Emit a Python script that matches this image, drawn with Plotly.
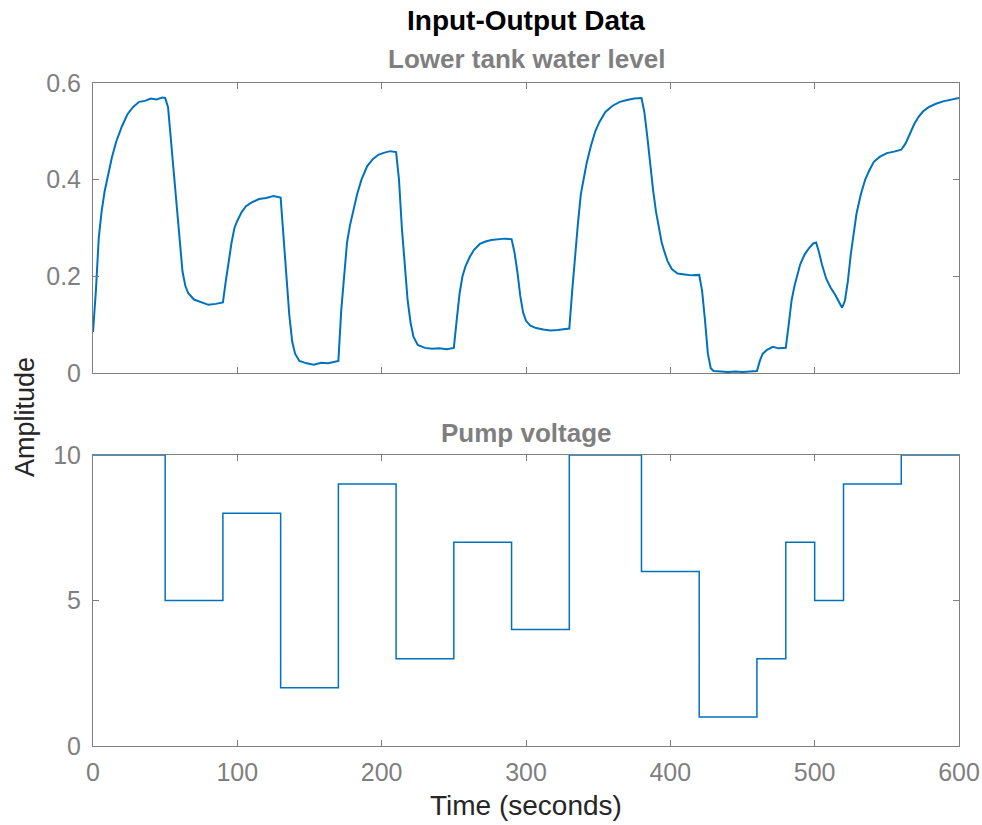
import plotly.graph_objects as go

# ---- data ----
level_time = [0, 2, 4, 6, 8, 10, 13, 16, 20, 24, 28, 32, 36, 40, 44, 48, 50,
              52, 54, 56, 58, 60, 62, 64, 66, 70, 75, 80, 85, 90,
              92, 94, 96, 98, 100, 103, 106, 110, 115, 120, 125, 130,
              132, 134, 136, 138, 140, 143, 148, 153, 158, 163, 168, 170,
              172, 174, 176, 178, 180, 183, 186, 190, 194, 198, 202, 206, 210,
              212, 214, 216, 218, 220, 222, 225, 230, 235, 240, 245, 250,
              252, 254, 256, 258, 261, 264, 268, 272, 276, 280, 285, 290,
              292, 294, 296, 298, 300, 303, 307, 312, 317, 322, 327, 330,
              332, 334, 336, 338, 340, 342, 345, 348, 351, 355, 360, 365, 370, 375, 380,
              382, 384, 386, 388, 390, 392, 394, 396, 398, 401, 405, 410, 415, 420,
              422, 424, 426, 428, 430, 435, 440, 445, 450, 455, 460,
              462, 464, 467, 471, 475, 480,
              482, 484, 486, 488, 490, 493, 496, 499, 501,
              503, 505, 508, 511, 514, 517, 519,
              521, 523, 525, 527, 529, 532, 535, 538, 541, 545, 550, 555, 560,
              563, 566, 569, 572, 575, 579, 584, 589, 594, 600]
level_value = [0.085, 0.17, 0.28, 0.335, 0.375, 0.405, 0.445, 0.478, 0.51, 0.536, 0.551, 0.561, 0.563, 0.568, 0.566, 0.570, 0.569,
               0.55, 0.48, 0.42, 0.34, 0.27, 0.21, 0.18, 0.165, 0.152, 0.146, 0.141, 0.143, 0.146,
               0.19, 0.235, 0.27, 0.30, 0.315, 0.333, 0.345, 0.353, 0.360, 0.362, 0.366, 0.363,
               0.28, 0.19, 0.12, 0.065, 0.04, 0.025, 0.020, 0.017, 0.021, 0.020, 0.023, 0.025,
               0.13, 0.21, 0.27, 0.305, 0.33, 0.37, 0.40, 0.428, 0.443, 0.452, 0.456, 0.459, 0.457,
               0.40, 0.30, 0.22, 0.15, 0.105, 0.075, 0.058, 0.052, 0.050, 0.051, 0.049, 0.052,
               0.11, 0.165, 0.20, 0.22, 0.24, 0.255, 0.267, 0.272, 0.275, 0.276, 0.278, 0.277,
               0.25, 0.21, 0.16, 0.125, 0.108, 0.098, 0.093, 0.090, 0.088, 0.089, 0.090, 0.092,
               0.17, 0.25, 0.31, 0.37, 0.405, 0.434, 0.47, 0.50, 0.52, 0.54, 0.553, 0.561, 0.565, 0.568, 0.569,
               0.54, 0.49, 0.43, 0.38, 0.335, 0.30, 0.27, 0.25, 0.232, 0.215, 0.206, 0.204, 0.202, 0.203,
               0.17, 0.11, 0.04, 0.01, 0.004, 0.003, 0.002, 0.003, 0.002, 0.003, 0.004,
               0.025, 0.040, 0.048, 0.054, 0.051, 0.052,
               0.10, 0.15, 0.18, 0.205, 0.225, 0.245, 0.258, 0.268, 0.270,
               0.25, 0.225, 0.195, 0.177, 0.163, 0.148, 0.135,
               0.15, 0.19, 0.245, 0.29, 0.33, 0.37, 0.40, 0.42, 0.437, 0.447, 0.455, 0.458, 0.462,
               0.475, 0.495, 0.515, 0.53, 0.541, 0.550, 0.557, 0.562, 0.565, 0.569]

voltage_time = [0, 50, 90, 130, 170, 210, 250, 290, 330, 380, 420, 460, 480, 500, 520, 560, 600]
voltage_value = [10, 5, 8, 2, 9, 3, 7, 4, 10, 6, 1, 3, 7, 5, 9, 10, 10]

x_ticks = [0, 100, 200, 300, 400, 500, 600]
level_ticks = [0, 0.2, 0.4, 0.6]
voltage_ticks = [0, 5, 10]

# ---- styling ----
W, H = 982, 825
LINE = "#0072BD"
AXIS = "#7f7f7f"
TEXT = "#262626"
FONT = "Liberation Sans"


def px(x):
    return x / W


def py(y):
    return 1 - y / H


x0, x1 = px(93), px(959)
top_dom = [py(373), py(83)]
bot_dom = [py(746), py(455)]
xc = (x0 + x1) / 2

fig = go.Figure()
fig.add_trace(go.Scatter(x=level_time, y=level_value, mode="lines",
                         line=dict(color=LINE, width=2), xaxis="x", yaxis="y",
                         showlegend=False, hoverinfo="skip"))
fig.add_trace(go.Scatter(x=voltage_time, y=voltage_value, mode="lines",
                         line=dict(color=LINE, width=1.5, shape="hv"),
                         xaxis="x2", yaxis="y2", showlegend=False, hoverinfo="skip"))

common_axis = dict(showline=True, linecolor=AXIS, linewidth=1, mirror="ticks",
                   ticks="inside", ticklen=6, tickcolor=AXIS, tickwidth=1,
                   showgrid=False, zeroline=False, automargin=False,
                   tickfont=dict(family=FONT, size=25, color=AXIS))

fig.update_layout(
    width=W, height=H,
    margin=dict(l=0, r=0, t=0, b=0, autoexpand=False),
    paper_bgcolor="white", plot_bgcolor="white",
    hovermode=False,
    font=dict(family=FONT, color=TEXT),
    xaxis=dict(domain=[x0, x1], range=[0, 600], tickvals=x_ticks,
               showticklabels=False, anchor="y", **common_axis),
    yaxis=dict(domain=top_dom, range=[0, 0.6], tickvals=level_ticks,
               ticktext=["0", "0.2", "0.4", "0.6"], anchor="x",
               ticklabelstandoff=6, **common_axis),
    xaxis2=dict(domain=[x0, x1], range=[0, 600], tickvals=x_ticks,
                ticktext=[str(v) for v in x_ticks], anchor="y2",
                ticklabelstandoff=4, **common_axis),
    yaxis2=dict(domain=bot_dom, range=[0, 10], tickvals=voltage_ticks,
                ticktext=[str(v) for v in voltage_ticks], anchor="x2",
                ticklabelstandoff=6, **common_axis),
    annotations=[
        dict(text="<b>Input-Output Data</b>", x=xc, y=py(20), xref="paper", yref="paper",
             showarrow=False, xanchor="center", yanchor="middle",
             font=dict(family=FONT, size=28, color="#000000")),
        dict(text="<b>Lower tank water level</b>", x=xc, y=py(59),
             xref="paper", yref="paper", showarrow=False, xanchor="center", yanchor="middle",
             font=dict(family=FONT, size=26, color=AXIS)),
        dict(text="<b>Pump voltage</b>", x=xc, y=py(433),
             xref="paper", yref="paper", showarrow=False, xanchor="center", yanchor="middle",
             font=dict(family=FONT, size=26, color=AXIS)),
        dict(text="Amplitude", x=px(25), y=py(417), xref="paper", yref="paper",
             showarrow=False, textangle=-90, xanchor="center", yanchor="middle",
             font=dict(family=FONT, size=27, color=TEXT)),
        dict(text="Time (seconds)", x=xc, y=py(805), xref="paper", yref="paper",
             showarrow=False, xanchor="center", yanchor="middle",
             font=dict(family=FONT, size=28, color=TEXT)),
    ],
)

fig.write_html(
    "out.html",
    config={"displayModeBar": False},
    post_script="document.body.style.margin='0';document.body.style.overflow='hidden';",
)
